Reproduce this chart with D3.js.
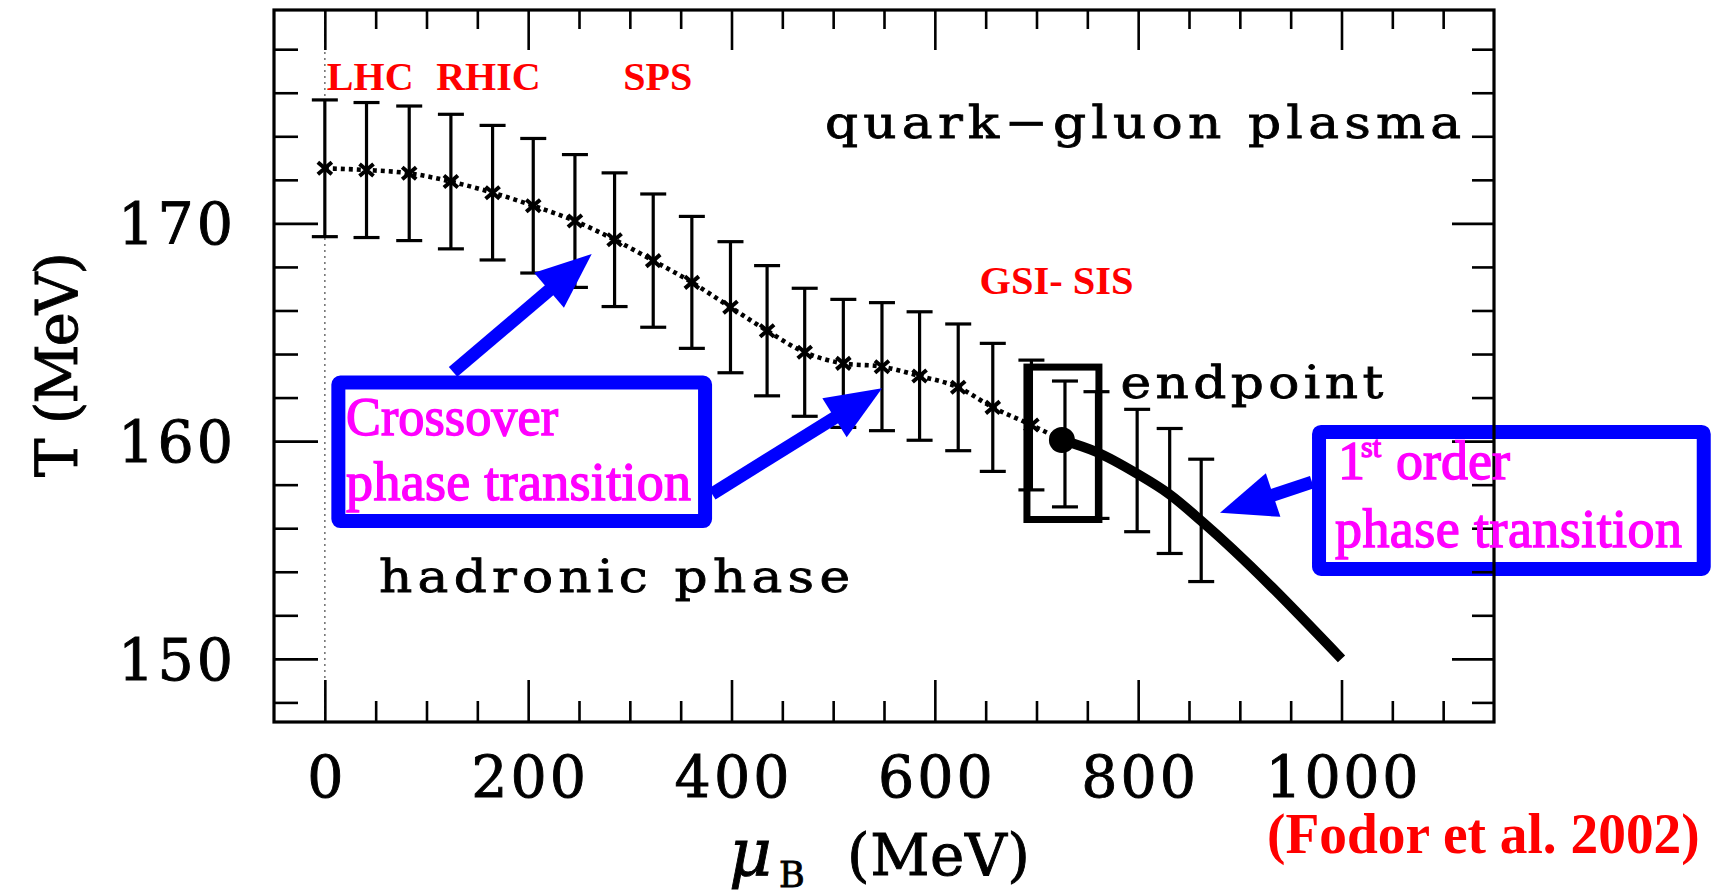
<!DOCTYPE html>
<html>
<head>
<meta charset="utf-8">
<script src="https://cdn.jsdelivr.net/npm/d3@7"></script>
<style>
  html, body { margin: 0; padding: 0; background: #fff; }
  svg { display: block; }
</style>
</head>
<body>
<div id="chart"></div>
<script>
// lattice points, mu_B (MeV) / T (MeV) / error
const muB     = [0, 41, 83, 124, 165, 205, 246, 285, 323, 361, 399, 435, 472, 510, 548, 585, 623, 657, 695, 728, 759, 799, 831, 862];
const tempT   = [172.53, 172.45, 172.30, 171.92, 171.41, 170.81, 170.11, 169.25, 168.29, 167.29, 166.15, 165.07, 164.08, 163.57, 163.42, 162.99, 162.47, 161.55, 160.74, 159.87, 159.36, 158.65, 157.71, 156.36];
const tempErr = [3.14, 3.10, 3.09, 3.09, 3.09, 3.09, 3.05, 3.07, 3.06, 3.03, 3.01, 2.99, 2.94, 2.94, 2.94, 2.95, 2.91, 2.94, 2.98, 2.89, 2.91, 2.81, 2.87, 2.81];
const nCrossover = 19;

const endpoint = [725, 160.05];
const firstOrderMu = [725, 759, 799, 831, 863, 1000];
const firstOrderT  = [160.05, 159.5, 158.5, 157.55, 156.3, 150];

// ticks
const xMajor = [0, 200, 400, 600, 800, 1000];
const xMinor = [50, 100, 150, 250, 300, 350, 450, 500, 550, 650, 700, 750, 850, 900, 950, 1050, 1100];
const yMajor = [150, 160, 170];
const yMinor = [148, 152, 154, 156, 158, 162, 164, 166, 168, 172, 174, 176, 178];

// annotations (data coordinates)
const redLabels = [
    { text: "LHC",      mu: 2,     T: 176.13 },
    { text: "RHIC",     mu: 109.5, T: 176.13 },
    { text: "SPS",      mu: 293.5, T: 176.13 },
    { text: "GSI- SIS", mu: 644,   T: 166.76, len: 154 }
];
const blackLabels = [
    { text: "quark\u2212gluon plasma", mu: 492,   T: 173.92, len: 636 },
    { text: "endpoint",                mu: 782.5, T: 162.0,  len: 263 },
    { text: "hadronic phase",          mu: 53.3,  T: 153.05, len: 471 }
];
const endBox = { mu0: 690.6, mu1: 761.4, T0: 163.4, T1: 156.4 };
const crossBox = { mu0: 13.3, mu1: 374, T0: 162.69, T1: 156.33 };
const firstBox = { mu0: 977.9, mu1: 1356.3, T0: 160.42, T1: 154.13 };
const arrows = [
    { from: [126.1, 163.18], to: [262.5, 168.59] },
    { from: [380.9, 157.57], to: [548.1, 162.43] },
    { from: [971.0, 158.12], to: [880.5, 156.71] }
];

const W = 1718, H = 894;
const x = d3.scaleLinear().domain([-50, 1150]).range([274, 1494]);
const y = d3.scaleLinear().domain([147.1, 179.8]).range([722, 10]);

const svg = d3.select("#chart").append("svg")
    .attr("width", W)
    .attr("height", H)
    .style("font-family", "'DejaVu Serif', serif");

const points = muB.map((m, i) => ({ mu: m, T: tempT[i], err: tempErr[i] }));

// mu = 0 guide
svg.append("line")
    .attr("x1", x(0)).attr("x2", x(0))
    .attr("y1", y(179.8)).attr("y2", y(147.1))
    .attr("stroke", "#777")
    .attr("stroke-width", 1.6)
    .attr("stroke-dasharray", "2,4");

// error bars
const bars = svg.append("g").attr("stroke", "#000").attr("stroke-width", 3.2);
bars.selectAll("g.bar")
    .data(points)
    .enter().append("g")
    .attr("class", "bar")
    .each(function(d) {
        const g = d3.select(this);
        const cx = x(d.mu);
        g.append("line").attr("x1", cx).attr("x2", cx).attr("y1", y(d.T + d.err)).attr("y2", y(d.T - d.err));
        g.append("line").attr("x1", cx - 13).attr("x2", cx + 13).attr("y1", y(d.T + d.err)).attr("y2", y(d.T + d.err));
        g.append("line").attr("x1", cx - 13).attr("x2", cx + 13).attr("y1", y(d.T - d.err)).attr("y2", y(d.T - d.err));
    });

// dotted crossover line
const crossPts = points.slice(0, nCrossover).map(d => [d.mu, d.T]).concat([endpoint]);
const line = d3.line().x(d => x(d[0])).y(d => y(d[1])).curve(d3.curveMonotoneX);
svg.append("path")
    .attr("d", line(crossPts))
    .attr("fill", "none")
    .attr("stroke", "#000")
    .attr("stroke-width", 4.6)
    .attr("stroke-dasharray", "4,4");

// x markers
svg.append("g").selectAll("path")
    .data(points.slice(0, nCrossover))
    .enter().append("path")
    .attr("transform", d => `translate(${x(d.mu)},${y(d.T)})`)
    .attr("d", "M-7,-6L7,6M-7,6L7,-6")
    .attr("stroke", "#000")
    .attr("stroke-width", 4);

// first order line
const foPts = firstOrderMu.map((m, i) => [m, firstOrderT[i]]);
svg.append("path")
    .attr("d", line(foPts))
    .attr("fill", "none")
    .attr("stroke", "#000")
    .attr("stroke-width", 10);

svg.append("circle")
    .attr("cx", x(endpoint[0]))
    .attr("cy", y(endpoint[1]))
    .attr("r", 13)
    .attr("fill", "#000");

svg.append("rect")
    .attr("x", x(endBox.mu0)).attr("y", y(endBox.T0))
    .attr("width", x(endBox.mu1) - x(endBox.mu0))
    .attr("height", y(endBox.T1) - y(endBox.T0))
    .attr("fill", "none")
    .attr("stroke", "#000")
    .attr("stroke-width", 7);

// blue boxes + arrows
const blue = "#0000ff";
[crossBox, firstBox].forEach(b => {
    svg.append("rect")
        .attr("x", x(b.mu0)).attr("y", y(b.T0))
        .attr("width", x(b.mu1) - x(b.mu0))
        .attr("height", y(b.T1) - y(b.T0))
        .attr("rx", 2)
        .attr("fill", "none")
        .attr("stroke", blue)
        .attr("stroke-width", 14);
});

function drawArrow(a) {
    const x0 = x(a.from[0]), y0 = y(a.from[1]), x1 = x(a.to[0]), y1 = y(a.to[1]);
    const L = Math.hypot(x1 - x0, y1 - y0);
    const ux = (x1 - x0) / L, uy = (y1 - y0) / L;
    const nx = -uy, ny = ux;
    const headL = 56, headW = 46;
    const bx = x1 - ux * headL, by = y1 - uy * headL;
    svg.append("line")
        .attr("x1", x0).attr("y1", y0)
        .attr("x2", bx + ux * 4).attr("y2", by + uy * 4)
        .attr("stroke", blue)
        .attr("stroke-width", 13);
    svg.append("path")
        .attr("d", `M${x1},${y1}L${bx + nx * headW / 2},${by + ny * headW / 2}L${bx - nx * headW / 2},${by - ny * headW / 2}Z`)
        .attr("fill", blue);
}
arrows.forEach(drawArrow);

// frame and ticks
function styleAxis(g) {
    g.select(".domain").remove();
    g.selectAll(".tick line").attr("stroke", "#000").attr("stroke-width", 2.6);
}
const noLabel = () => "";

svg.append("g").attr("transform", "translate(0,722)")
    .call(d3.axisBottom(x).tickValues(xMajor).tickSize(-42).tickFormat(d3.format("d")))
    .call(styleAxis)
    .call(g => g.selectAll("text")
        .attr("y", 75).attr("dy", 0)
        .attr("fill", "#000")
        .attr("stroke", "#000")
        .attr("stroke-width", 0.9)
        .attr("font-size", 57)
        .attr("font-family", "'DejaVu Serif', serif")
        .attr("textLength", d => String(d).length * 38.3)
        .attr("lengthAdjust", "spacing"));
svg.append("g").attr("transform", "translate(0,722)")
    .call(d3.axisBottom(x).tickValues(xMinor).tickSize(-21).tickFormat(noLabel))
    .call(styleAxis);
svg.append("g").attr("transform", "translate(0,10)")
    .call(d3.axisTop(x).tickValues(xMajor).tickSize(-40).tickFormat(noLabel))
    .call(styleAxis);
svg.append("g").attr("transform", "translate(0,10)")
    .call(d3.axisTop(x).tickValues(xMinor).tickSize(-19).tickFormat(noLabel))
    .call(styleAxis);

svg.append("g").attr("transform", "translate(274,0)")
    .call(d3.axisLeft(y).tickValues(yMajor).tickSize(-44).tickFormat(d3.format("d")))
    .call(styleAxis)
    .call(g => g.selectAll("text")
        .attr("x", -41).attr("dy", "0.36em")
        .attr("fill", "#000")
        .attr("stroke", "#000")
        .attr("stroke-width", 0.9)
        .attr("font-size", 57)
        .attr("font-family", "'DejaVu Serif', serif")
        .attr("textLength", 115)
        .attr("lengthAdjust", "spacing"));
svg.append("g").attr("transform", "translate(274,0)")
    .call(d3.axisLeft(y).tickValues(yMinor).tickSize(-24).tickFormat(noLabel))
    .call(styleAxis);
svg.append("g").attr("transform", "translate(1494,0)")
    .call(d3.axisRight(y).tickValues(yMajor).tickSize(-42).tickFormat(noLabel))
    .call(styleAxis);
svg.append("g").attr("transform", "translate(1494,0)")
    .call(d3.axisRight(y).tickValues(yMinor).tickSize(-22).tickFormat(noLabel))
    .call(styleAxis);

svg.append("rect")
    .attr("x", 274).attr("y", 10)
    .attr("width", 1494 - 274).attr("height", 722 - 10)
    .attr("fill", "none")
    .attr("stroke", "#000")
    .attr("stroke-width", 3.2);

// axis titles
const titles = svg.append("g").attr("stroke", "#000").attr("stroke-width", 0.9);
titles.append("text")
    .attr("transform", "translate(77,364.5) rotate(-90)")
    .attr("text-anchor", "middle")
    .attr("font-size", 58)
    .attr("textLength", 225)
    .attr("lengthAdjust", "spacing")
    .text("T (MeV)");

titles.append("text")
    .attr("x", 729).attr("y", 875)
    .attr("font-size", 66)
    .attr("font-style", "italic")
    .text("\u03bc");
titles.append("text")
    .attr("x", 779).attr("y", 887)
    .attr("font-size", 35)
    .text("B");
titles.append("text")
    .attr("x", 847).attr("y", 875)
    .attr("font-size", 58)
    .attr("textLength", 183)
    .attr("lengthAdjust", "spacing")
    .text("(MeV)");

// region labels: glyphs a bit wider than DejaVu, plus loose tracking
const stretch = 1.15;
svg.append("g").selectAll("g")
    .data(blackLabels)
    .enter().append("g")
    .attr("transform", d => `translate(${x(d.mu)},${y(d.T)}) scale(${stretch},1)`)
    .append("text")
    .attr("font-size", 45)
    .attr("stroke", "#000")
    .attr("stroke-width", 0.8)
    .attr("textLength", d => d.len / stretch)
    .attr("lengthAdjust", "spacing")
    .text(d => d.text);

const red = "#ff0000";
svg.append("g").selectAll("text")
    .data(redLabels)
    .enter().append("text")
    .attr("x", d => x(d.mu))
    .attr("y", d => y(d.T))
    .attr("font-family", "'Liberation Serif', 'Times New Roman', serif")
    .attr("font-weight", "bold")
    .attr("font-size", 40)
    .attr("fill", red)
    .each(function(d) {
        if (d.len) d3.select(this).attr("textLength", d.len).attr("lengthAdjust", "spacingAndGlyphs");
    })
    .text(d => d.text);

// citation, condensed horizontally
svg.append("g")
    .attr("transform", "translate(1267,853) scale(0.955,1)")
    .append("text")
    .attr("font-family", "'Liberation Serif', 'Times New Roman', serif")
    .attr("font-weight", "bold")
    .attr("font-size", 58)
    .attr("fill", red)
    .text("(Fodor et al. 2002)");

// magenta box texts
const magenta = "#ff00ff";
const mg = svg.append("g")
    .attr("font-family", "'Liberation Serif', 'Times New Roman', serif")
    .attr("font-size", 54)
    .attr("fill", magenta)
    .attr("stroke", magenta)
    .attr("stroke-width", 1.4);

mg.append("text").attr("x", x(20.9)).attr("y", y(160.28))
    .attr("textLength", 212).attr("lengthAdjust", "spacingAndGlyphs")
    .text("Crossover");
mg.append("text").attr("x", x(20.9)).attr("y", y(157.3))
    .attr("textLength", 345).attr("lengthAdjust", "spacing")
    .text("phase transition");

const ord = mg.append("text").attr("x", x(996.6)).attr("y", y(158.26));
ord.append("tspan").text("1");
ord.append("tspan").attr("dx", -4).attr("dy", -22).attr("font-size", 30).text("st");
ord.append("tspan").attr("x", x(1053.6)).attr("dy", 22).text("order");
mg.append("text").attr("x", x(993.6)).attr("y", y(155.15))
    .attr("textLength", 347).attr("lengthAdjust", "spacing")
    .text("phase transition");
</script>
</body>
</html>
